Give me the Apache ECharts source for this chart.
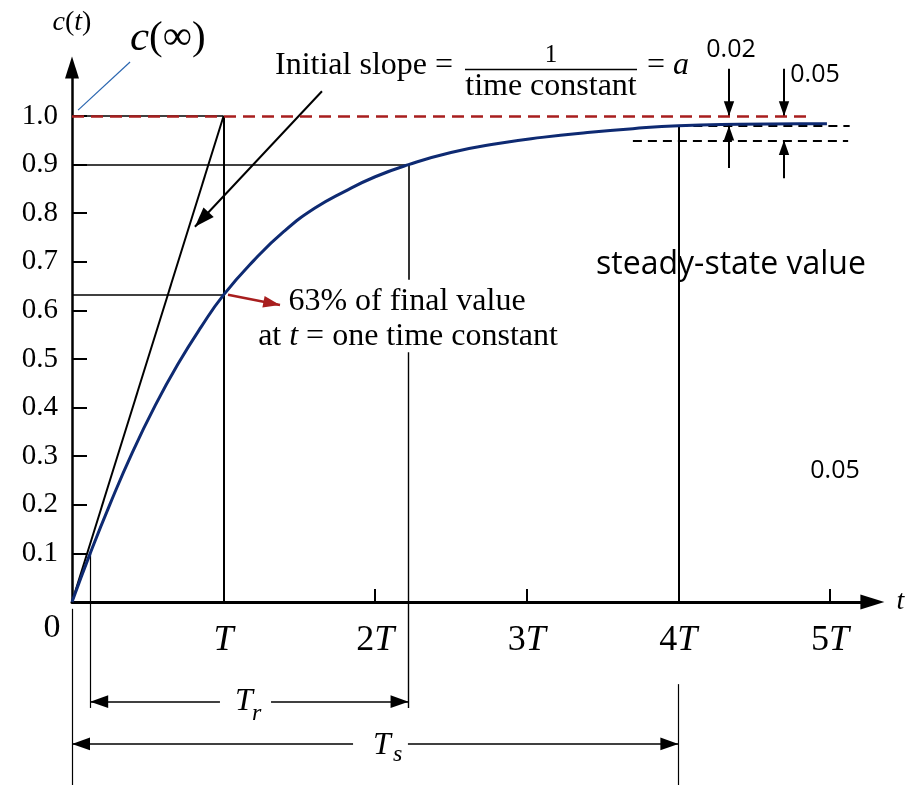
<!DOCTYPE html>
<html>
<head>
<meta charset="utf-8">
<script src="https://cdn.jsdelivr.net/npm/echarts@6/dist/echarts.min.js"></script>
<style>
  html, body { margin: 0; padding: 0; background: #fff; }
  #chart { width: 912px; height: 785px; }
</style>
</head>
<body>
<div id="chart"></div>
<script>
// First-order step response c(t), time measured in time constants T.
const TIME_TICKS = [0, 1, 2, 3, 4, 5];
const TIME_TICK_LABELS = ['0', 'T', '2T', '3T', '4T', '5T'];
const LEVEL_TICKS = [0.1, 0.2, 0.3, 0.4, 0.5, 0.6, 0.7, 0.8, 0.9, 1.0];
const LEVEL_TICK_LABELS = ['0.1', '0.2', '0.3', '0.4', '0.5', '0.6', '0.7', '0.8', '0.9', '1.0'];

// Response curve samples (t in units of T)
const T_SAMPLES = [0, 0.12, 0.25, 0.4, 0.55, 0.7, 0.85, 1.0, 1.2, 1.4, 1.6, 1.8, 2.0, 2.22, 2.5, 2.8, 3.1, 3.4, 3.7, 4.0, 4.4, 4.8, 4.98];
const C_SAMPLES = [0, 0.10, 0.201, 0.309, 0.405, 0.49, 0.565, 0.632, 0.703, 0.763, 0.81, 0.845, 0.875, 0.90, 0.925, 0.943, 0.956, 0.966, 0.974, 0.98, 0.983, 0.984, 0.984];

// Characteristic values
const FINAL_VALUE = 1.0;
const TIME_CONSTANT = 1;
const C_AT_TIME_CONSTANT = 0.632;
const RISE_START = [0.12, 0.1];
const RISE_END = [2.22, 0.9];
const SETTLING_TIME = 4;
const BAND_2PCT = 0.02;
const BAND_5PCT = 0.05;
const C_AT_SETTLING = FINAL_VALUE - BAND_2PCT;
const C_BAND_5PCT = FINAL_VALUE - BAND_5PCT;

// Annotation geometry, in axis units
const X_MAX = 5.28, Y_MAX = 1.1;
const DIM_ROW_RISE = -0.205, DIM_ROW_SETTLE = -0.292;
const EXT_RISE_BOTTOM = -0.218, EXT_BOTTOM = -0.377, EXT_SETTLE_TOP = -0.169, EXT_ORIGIN_TOP = -0.014;
const RISE_LABEL_GAP = [0.976, 1.313];
const SETTLE_LABEL_GAP = [1.854, 2.216];
const TEXT_GAP_RISE_END = [0.663, 0.514];
const SLOPE_POINTER = [[1.649, 1.051], [0.811, 0.772]];
const RED_POINTER = [[1.029, C_AT_TIME_CONSTANT], [1.372, 0.611]];
const CINF_LEADER = [[0.040, 1.012], [0.383, 1.111]];
const BAND_ARROW_T = [4.334, 4.697];
const BAND_ARROW_TOP = 1.097;
const BAND_ARROW_TAIL = [0.893, 0.872];
const DASH_2PCT_SPAN = [4.0, 5.13];
const DASH_5PCT_SPAN = [3.70, 5.12];
const RED_DASH_END = 4.85;

const SERIF = "'Liberation Serif', 'Times New Roman', serif";
const SANS = "'Open Sans', 'Noto Sans', sans-serif";
const INK = '#000';
const RED = '#a81e1e';
const NAVY = '#0e2a72';

// filled arrow head whose tip sits at the symbol centre
const ARROW_HEAD = 'path://M-50,-50 M50,50 M0,0 L14,40 L-14,40 Z';

const chart = echarts.init(document.getElementById('chart'), null, { renderer: 'canvas' });

function seg(a, b, width) {
  return { coords: [a, b], lineStyle: width ? { width } : undefined };
}

function arrowSeries(items, color, width, headSize) {
  return {
    type: 'lines', coordinateSystem: 'cartesian2d', clip: false, silent: true, z: 6,
    symbol: ['none', ARROW_HEAD], symbolSize: headSize,
    lineStyle: { color, width, opacity: 1 },
    data: items.map(p => ({ coords: p }))
  };
}

const guideSegments = [
  seg([0, FINAL_VALUE], [TIME_CONSTANT, FINAL_VALUE], 1.6),
  seg([TIME_CONSTANT, 0], [TIME_CONSTANT, FINAL_VALUE], 2),
  seg([0, 0], [TIME_CONSTANT, FINAL_VALUE], 2),
  seg([0, C_AT_TIME_CONSTANT], [TIME_CONSTANT, C_AT_TIME_CONSTANT], 1.6),
  seg([0, RISE_END[1]], [RISE_END[0], RISE_END[1]], 1.6),
  seg([RISE_END[0], RISE_END[1]], [RISE_END[0], TEXT_GAP_RISE_END[0]], 1.6),
  seg([RISE_END[0], TEXT_GAP_RISE_END[1]], [RISE_END[0], EXT_RISE_BOTTOM], 1.4),
  seg([RISE_START[0], RISE_START[1]], [RISE_START[0], EXT_RISE_BOTTOM], 1.2),
  seg([SETTLING_TIME, C_AT_SETTLING], [SETTLING_TIME, 0], 2),
  seg([SETTLING_TIME, EXT_SETTLE_TOP], [SETTLING_TIME, EXT_BOTTOM], 1.2),
  seg([0, EXT_ORIGIN_TOP], [0, EXT_BOTTOM], 1.2)
];

const dimensionArrows = [
  [[RISE_LABEL_GAP[0], DIM_ROW_RISE], [RISE_START[0], DIM_ROW_RISE]],
  [[RISE_LABEL_GAP[1], DIM_ROW_RISE], [RISE_END[0], DIM_ROW_RISE]],
  [[SETTLE_LABEL_GAP[0], DIM_ROW_SETTLE], [0, DIM_ROW_SETTLE]],
  [[SETTLE_LABEL_GAP[1], DIM_ROW_SETTLE], [SETTLING_TIME, DIM_ROW_SETTLE]]
];

const bandArrows = [
  [[BAND_ARROW_T[0], BAND_ARROW_TOP], [BAND_ARROW_T[0], FINAL_VALUE]],
  [[BAND_ARROW_T[0], BAND_ARROW_TAIL[0]], [BAND_ARROW_T[0], C_AT_SETTLING]],
  [[BAND_ARROW_T[1], BAND_ARROW_TOP], [BAND_ARROW_T[1], FINAL_VALUE]],
  [[BAND_ARROW_T[1], BAND_ARROW_TAIL[1]], [BAND_ARROW_T[1], C_BAND_5PCT]]
];

function timeLabel(value) {
  const i = TIME_TICKS.indexOf(Math.round(value));
  if (i < 0) return '';
  const s = TIME_TICK_LABELS[i];
  if (s === '0') return '{z|0}';
  if (s === 'T') return '{t|T}';
  return '{n|' + s.slice(0, -1) + '}{t|T}';
}

function levelLabel(value) {
  const i = LEVEL_TICKS.findIndex(v => Math.abs(v - value) < 1e-6);
  return i < 0 ? '' : LEVEL_TICK_LABELS[i];
}

function text(x, y, content, extra) {
  return {
    type: 'text', x, y, z: 50, silent: true,
    style: Object.assign({ text: content, fill: INK, align: 'left', verticalAlign: 'middle',
      fontFamily: SERIF, fontSize: 32 }, extra)
  };
}

const option = {
  animation: false,
  backgroundColor: '#fff',
  grid: { left: 72, right: 39.6, top: 67.4, bottom: 183 },
  xAxis: {
    type: 'value', min: 0, max: X_MAX,
    name: 't', nameLocation: 'end', nameGap: 24,
    nameTextStyle: { fontFamily: SERIF, fontStyle: 'italic', fontSize: 28, color: INK },
    axisLine: { show: true, onZero: false, symbol: ['none', 'triangle'], symbolSize: [15, 24],
      lineStyle: { color: INK, width: 3 } },
    axisTick: { show: true, inside: true, length: 13, customValues: TIME_TICKS.slice(1),
      lineStyle: { color: INK, width: 2 } },
    axisLabel: {
      show: true, margin: 21, customValues: TIME_TICKS, formatter: timeLabel, color: INK,
      rich: {
        z: { fontFamily: SERIF, fontSize: 34, lineHeight: 10, padding: [0, 40, 0, 0], color: INK },
        n: { fontFamily: SERIF, fontSize: 36, lineHeight: 36, color: INK },
        t: { fontFamily: SERIF, fontSize: 36, lineHeight: 36, fontStyle: 'italic', color: INK }
      }
    },
    splitLine: { show: false }
  },
  yAxis: {
    type: 'value', min: 0, max: Y_MAX,
    name: '{i|c}{n|(}{i|t}{n|)}', nameLocation: 'end', nameGap: 31,
    nameTextStyle: {
      rich: {
        i: { fontFamily: SERIF, fontStyle: 'italic', fontSize: 28, color: INK },
        n: { fontFamily: SERIF, fontSize: 28, color: INK }
      }
    },
    axisLine: { show: true, onZero: false, symbol: ['none', 'triangle'], symbolSize: [14, 22],
      lineStyle: { color: INK, width: 2.5 } },
    axisTick: { show: true, inside: true, length: 15, customValues: LEVEL_TICKS,
      lineStyle: { color: INK, width: 2 } },
    axisLabel: { show: true, margin: 14, customValues: LEVEL_TICKS, formatter: levelLabel,
      fontFamily: SERIF, fontSize: 29, color: INK },
    splitLine: { show: false }
  },
  series: [
    {
      type: 'lines', coordinateSystem: 'cartesian2d', clip: false, silent: true, z: 3,
      lineStyle: { color: INK, width: 1.6, opacity: 1 },
      data: guideSegments
    },
    {
      type: 'lines', coordinateSystem: 'cartesian2d', clip: false, silent: true, z: 4,
      lineStyle: { color: INK, width: 2, type: [9, 6], opacity: 1 },
      data: [
        { coords: [[DASH_2PCT_SPAN[0], C_AT_SETTLING], [DASH_2PCT_SPAN[1], C_AT_SETTLING]] },
        { coords: [[DASH_5PCT_SPAN[0], C_BAND_5PCT], [DASH_5PCT_SPAN[1], C_BAND_5PCT]] }
      ]
    },
    {
      type: 'line', name: 'c(t)', silent: true, z: 5,
      data: T_SAMPLES.map((t, i) => [t, C_SAMPLES[i]]),
      smooth: 0.5, showSymbol: false, symbol: 'none',
      lineStyle: { color: NAVY, width: 3 }
    },
    {
      type: 'lines', coordinateSystem: 'cartesian2d', clip: false, silent: true, z: 7,
      lineStyle: { color: RED, width: 2.5, type: [12, 7], opacity: 1 },
      data: [{ coords: [[0, FINAL_VALUE], [RED_DASH_END, FINAL_VALUE]] }]
    },
    arrowSeries([SLOPE_POINTER], INK, 2, 50),
    arrowSeries(bandArrows, INK, 2, 37),
    arrowSeries(dimensionArrows, INK, 1.5, 45),
    arrowSeries([RED_POINTER], RED, 2.5, 42),
    {
      type: 'lines', coordinateSystem: 'cartesian2d', clip: false, silent: true, z: 6,
      lineStyle: { color: '#2a66b0', width: 1.2, opacity: 1 },
      data: [{ coords: CINF_LEADER }]
    }
  ],
  graphic: [
    text(130, 38.5, '{c|c}{p|(∞)}', {
      rich: {
        c: { fontFamily: SERIF, fontStyle: 'italic', fontSize: 43, fill: INK },
        p: { fontFamily: SERIF, fontSize: 41, fill: INK }
      }
    }),
    text(275, 66, 'Initial slope ='),
    text(551, 55, '1', { align: 'center', fontSize: 25 }),
    { type: 'line', z: 50, silent: true, shape: { x1: 465, y1: 69.5, x2: 637, y2: 69.5 },
      style: { stroke: INK, lineWidth: 1.6 } },
    text(551, 87, 'time constant', { align: 'center' }),
    text(647, 66, '{n|= }{i|a}', {
      rich: {
        n: { fontFamily: SERIF, fontSize: 32, fill: INK },
        i: { fontFamily: SERIF, fontSize: 32, fontStyle: 'italic', fill: INK }
      }
    }),
    text(407, 302, '63% of final value', { align: 'center' }),
    text(408, 337, '{n|at }{i|t}{n| = one time constant}', {
      align: 'center',
      rich: {
        n: { fontFamily: SERIF, fontSize: 32, fill: INK },
        i: { fontFamily: SERIF, fontSize: 32, fontStyle: 'italic', fill: INK }
      }
    }),
    text(731, 265, 'steady-state value', { align: 'center', fontFamily: SANS, fontSize: 32 }),
    text(731, 50, '0.02', { align: 'center', fontFamily: SANS, fontSize: 25 }),
    text(815, 75, '0.05', { align: 'center', fontFamily: SANS, fontSize: 25 }),
    text(835, 471, '0.05', { align: 'center', fontFamily: SANS, fontSize: 25 }),
    text(235, 702, 'T', { fontStyle: 'italic', fontSize: 32 }),
    text(252, 714, 'r', { fontStyle: 'italic', fontSize: 24 }),
    text(373, 746, 'T', { fontStyle: 'italic', fontSize: 32 }),
    text(393, 755, 's', { fontStyle: 'italic', fontSize: 24 })
  ]
};

chart.setOption(option);
</script>
</body>
</html>
